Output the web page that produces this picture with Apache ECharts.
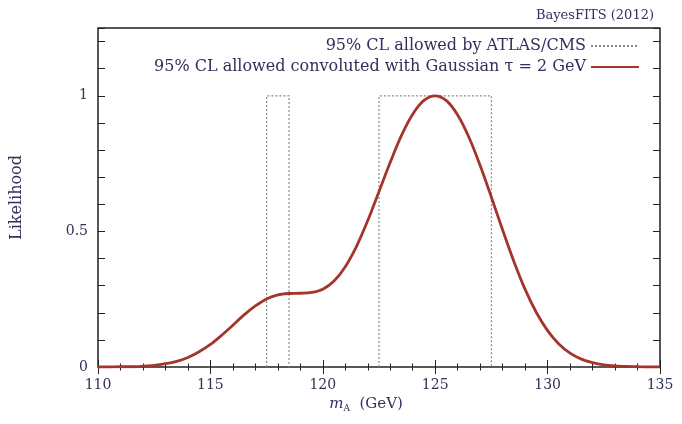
<!DOCTYPE html>
<html>
<head>
<meta charset="utf-8">
<script src="https://cdn.jsdelivr.net/npm/echarts@6/dist/echarts.min.js"></script>
<style>
  html, body { margin: 0; padding: 0; background: #fff; }
  #main { width: 682px; height: 424px; }
</style>
</head>
<body>
<div id="main"></div>
<script>
// Higgs mass grid (GeV) and likelihood
var mass = [110, 110.5, 111, 111.5, 112, 112.5, 113, 113.5, 114, 114.5,
            115, 115.5, 116, 116.5, 117, 117.5, 118, 118.5, 119, 119.5,
            120, 120.5, 121, 121.5, 122, 122.5, 123, 123.5, 124, 124.5,
            125, 125.5, 126, 126.5, 127, 127.5, 128, 128.5, 129, 129.5,
            130, 130.5, 131, 131.5, 132, 132.5, 133, 133.5, 134, 134.5, 135];
var likelihood = [0.000, 0.000, 0.001, 0.001, 0.003, 0.006, 0.012, 0.021, 0.035, 0.056,
                  0.083, 0.117, 0.154, 0.192, 0.225, 0.251, 0.266, 0.271, 0.272, 0.275,
                  0.287, 0.317, 0.370, 0.445, 0.540, 0.647, 0.755, 0.854, 0.932, 0.983,
                  1.000, 0.982, 0.929, 0.847, 0.743, 0.626, 0.505, 0.389, 0.286, 0.201,
                  0.134, 0.085, 0.051, 0.029, 0.016, 0.008, 0.004, 0.002, 0.001, 0.000, 0.000];
// 95% CL allowed windows
var allowedLow = [117.5, 122.5];
var allowedHigh = [118.5, 127.5];
var allowedLevel = 1;
var yLabels = [0, 0.5, 1];

var serif = 'DejaVu Serif';
var txt = '#30305a';

var boxData = [];
for (var i = 0; i < allowedLow.length; i++) {
    boxData.push([allowedLow[i], 0], [allowedLow[i], allowedLevel],
                 [allowedHigh[i], allowedLevel], [allowedHigh[i], 0], null);
}
var curveData = mass.map(function (m, k) { return [m, likelihood[k]]; });

var myChart = echarts.init(document.getElementById('main'));
var tickStyle = { show: true, inside: true, length: 7, lineStyle: { color: '#222', width: 1 } };
var minorStyle = { show: true, splitNumber: 5, length: 3.5, lineStyle: { color: '#222', width: 1 } };

var option = {
    animation: false,
    title: {
        text: 'BayesFITS (2012)',
        right: 23, top: 4,
        textStyle: { fontFamily: serif, fontSize: 13, fontWeight: 'normal', color: txt }
    },
    grid: {
        left: 98, right: 22, top: 28, bottom: 57,
        show: true, borderColor: '#222', borderWidth: 1.5, backgroundColor: 'transparent'
    },
    legend: {
        orient: 'vertical',
        right: 37, top: 33,
        align: 'right',
        itemWidth: 48, itemHeight: 14, itemGap: 5,
        itemStyle: { opacity: 0 },
        textStyle: { fontFamily: serif, fontSize: 16, color: txt },
        data: ['95% CL allowed by ATLAS/CMS', '95% CL allowed convoluted with Gaussian τ = 2 GeV']
    },
    xAxis: [{
        type: 'value', min: 110, max: 135, interval: 5,
        axisLine: { show: false },
        axisTick: tickStyle, minorTick: minorStyle,
        splitLine: { show: false },
        axisLabel: { fontFamily: serif, fontSize: 14, color: txt, margin: 11 },
        name: '{i|m}{s|A}  (GeV)',
        nameLocation: 'middle', nameGap: 24,
        nameTextStyle: {
            fontFamily: serif, fontSize: 15, color: txt,
            padding: [0, 26, 0, 0],
            rich: {
                i: { fontFamily: serif, fontStyle: 'italic', fontSize: 15, color: txt },
                s: { fontFamily: serif, fontSize: 9, color: txt, padding: [9, 0, 0, 0] }
            }
        }
    }, {
        type: 'value', position: 'top', min: 110, max: 135, interval: 5,
        axisLine: { show: false }, axisLabel: { show: false },
        axisTick: tickStyle, minorTick: minorStyle, splitLine: { show: false }
    }],
    yAxis: [{
        type: 'value', min: 0, max: 1.25, interval: 0.1,
        axisLine: { show: false },
        axisTick: tickStyle,
        splitLine: { show: false },
        axisLabel: {
            fontFamily: serif, fontSize: 14, color: txt, margin: 10,
            formatter: function (v) {
                var r = Math.round(v * 10) / 10;
                return yLabels.indexOf(r) >= 0 ? String(r) : '';
            }
        },
        name: 'Likelihood', nameLocation: 'middle', nameGap: 73,
        nameTextStyle: { fontFamily: serif, fontSize: 16, color: txt }
    }, {
        type: 'value', position: 'right', min: 0, max: 1.25, interval: 0.1,
        axisLine: { show: false }, axisLabel: { show: false },
        axisTick: tickStyle, splitLine: { show: false }
    }],
    series: [{
        name: '95% CL allowed by ATLAS/CMS',
        type: 'line',
        data: boxData,
        symbol: 'none',
        connectNulls: false,
        lineStyle: { color: '#888', width: 1.2, type: [2, 2] },
        itemStyle: { color: '#888' }
    }, {
        name: '95% CL allowed convoluted with Gaussian τ = 2 GeV',
        type: 'line',
        data: curveData,
        symbol: 'none',
        smooth: 0.3,
        lineStyle: { color: '#a3352d', width: 2.8 },
        itemStyle: { color: '#a3352d' }
    }]
};
myChart.setOption(option);
</script>
</body>
</html>
